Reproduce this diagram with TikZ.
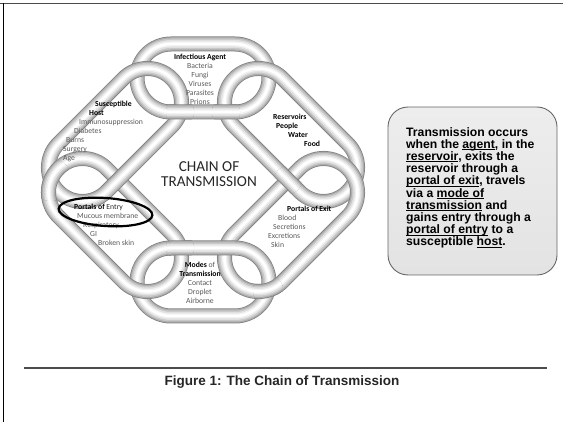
\documentclass[tikz,border=0pt]{standalone}
\usepackage{fontspec}
\setmainfont{Liberation Sans}
\newfontfamily\chainfont{Carlito}

% one ring of the chain: centre, angle, half length of the straight part
\newcommand{\chainlink}[3]{%
  \begin{scope}[shift={#1}, rotate=#2]
    \foreach \w/\c in {15/black!50, 13.5/black!33, 11/black!22, 8/black!12, 5/black!5, 2.5/white}
      \draw[line width=\w pt, color=\c] (-#3,-34) -- (#3,-34) arc (-90:90:34) -- (-#3,34) arc (90:270:34) -- cycle;
  \end{scope}}
% the same ring again, only inside a small circle (where it lies on top)
\newcommand{\linkpatch}[5]{%
  \begin{scope}
    \clip #4 circle (#5);
    \chainlink{#1}{#2}{#3}
  \end{scope}}
\newcommand{\linkhead}[1]{{\bfseries\color{black}#1}}
\newcommand{\undertext}[1]{\setbox0=\hbox{#1}\rlap{\rule[-1.8pt]{\wd0}{0.8pt}}\box0\relax}

\tikzset{
  linktext/.style={inner sep=0pt, font=\chainfont\fontsize{7.7}{9}\selectfont, text=black!65},
  infobox/.style={draw=black!60, line width=0.9pt, rounded corners=20pt, minimum width=169pt, minimum height=168pt, top color=black!7, middle color=white, bottom color=black!11, inner sep=0pt},
  boxtext/.style={inner sep=0pt, align=left, font=\bfseries\fontsize{12.2}{12.2}\selectfont}
}

\begin{document}
\begin{tikzpicture}[x=1pt, y=-1pt]
\useasboundingbox (0,0) rectangle (563,422);
\draw[black!70, line width=1.3pt] (0,3.5) -- (563,3.5);
\draw[black, line width=1.2pt] (3.5,3.5) -- (3.5,422);

% the six rings
\chainlink{(203,78)}{0}{32}
\chainlink{(291,135)}{-45}{46}
\chainlink{(291,225)}{45}{46}
\chainlink{(203,282)}{0}{32}
\chainlink{(115,225)}{-45}{46}
\chainlink{(115,135)}{45}{46}
% interlocking
\linkpatch{(203,78)}{0}{32}{(226,112)}{14}
\linkpatch{(291,135)}{-45}{46}{(288,180)}{14}
\linkpatch{(291,225)}{45}{46}{(268,290)}{15}
\linkpatch{(203,282)}{0}{32}{(180,248)}{14}
\linkpatch{(115,225)}{-45}{46}{(51,180)}{21}
\linkpatch{(203,78)}{0}{32}{(180,112)}{14}

\node[linktext, anchor=north, align=center] (agent) at (200,53.5)
  {\linkhead{Infectious Agent}\\Bacteria\\Fungi\\Viruses\\Parasites\\Prions};
\node[linktext, anchor=north west, align=left] (reservoirs) at (273,113.5)
  {\linkhead{Reservoirs}\\\hspace*{3pt}\linkhead{People}\\\hspace*{15pt}\linkhead{Water}\\\hspace*{31pt}\linkhead{Food}};
\node[linktext, anchor=north west, align=left] (exit) at (268,205.5)
  {\hspace*{19pt}\linkhead{Portals of Exit}\\\hspace*{10pt}Blood\\\hspace*{5pt}Secretions\\Excretions\\\hspace*{3pt}Skin};
\node[linktext, anchor=north, align=center] (modes) at (200,261.5)
  {\linkhead{Modes} of\\\linkhead{Transmission}\\Contact\\Droplet\\Airborne};
\node[linktext, anchor=north west, align=left] (entry) at (74,203.5)
  {\linkhead{Portals of} {\color{black!85}Entry}\\\hspace*{3pt}Mucous membrane\\\hspace*{9pt}Respiratory\\\hspace*{16pt}GI\\\hspace*{24pt}Broken skin};
\node[linktext, anchor=north west, align=left] (host) at (63,100.5)
  {\hspace*{32pt}\linkhead{Susceptible}\\\hspace*{26pt}\linkhead{Host}\\\hspace*{16pt}Immunosuppression\\\hspace*{11pt}Diabetes\\\hspace*{3pt}Burns\\Surgery\\Age};
\node[font=\chainfont\fontsize{15.2}{15}\selectfont, align=center, text=black!85] (title) at (209,174)
  {CHAIN OF\\TRANSMISSION};
\draw[line width=2.2pt, rotate around={-4:(105.5,212)}] (105.5,212) ellipse [x radius=47, y radius=14];

\node[infobox] (summarybox) at (472.5,191) {};
\node[boxtext, anchor=north west] (summary) at (406,127)
  {Transmission occurs\\when the \undertext{agent}, in the\\\undertext{reservoir}, exits the\\reservoir through a\\\undertext{portal of exit}, travels\\via a \undertext{mode of}\\\undertext{transmission} and\\gains entry through a\\\undertext{portal of entry} to a\\susceptible \undertext{host}.};

\draw[black!70, line width=2.6pt] (24,368) -- (547,368);
\node[font=\bfseries\fontsize{13.5}{15}\selectfont, text=black!85] (caption) at (282,382)
  {Figure 1: The Chain of Transmission};
\end{tikzpicture}
\end{document}
